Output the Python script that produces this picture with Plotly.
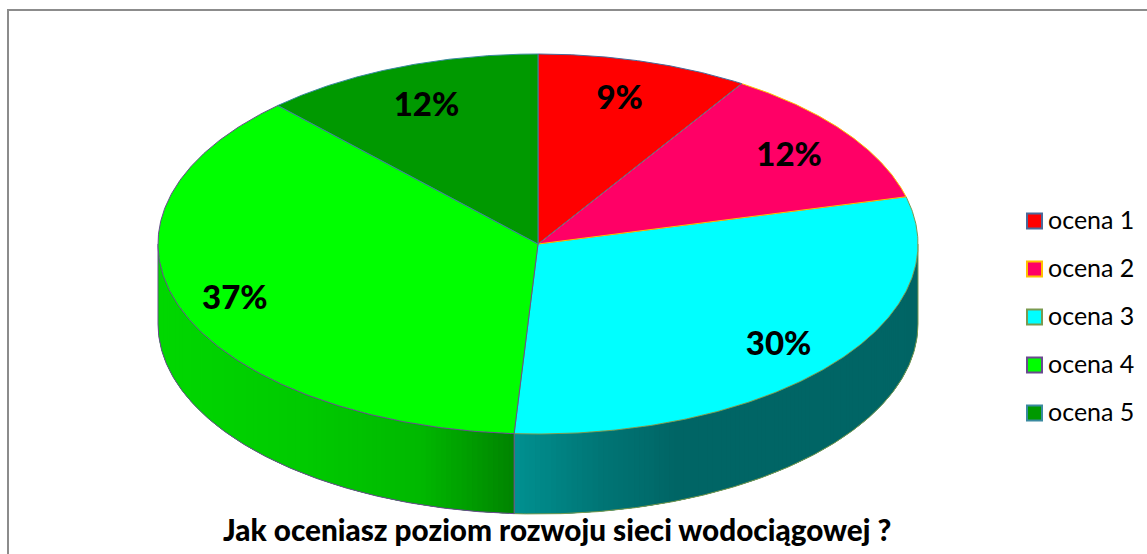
import numpy as np
import plotly.graph_objects as go

categories = ["ocena 1", "ocena 2", "ocena 3", "ocena 4", "ocena 5"]
values = [9, 12, 30, 37, 12]
top_colors = ["#ff0000", "#ff0066", "#00ffff", "#00ff00", "#009900"]
edge_colors = ["#4a6a9a", "#ffc000", "#7a9a50", "#6a4a90", "#3a8aa0"]
chart_title = "Jak oceniasz poziom rozwoju sieci wodociągowej ?"

W, H = 1147, 554
CX, CY, RX, RY, DEPTH = 538, 244, 380, 190, 80
LABEL_R = [0.78, 0.82, 0.825, 0.845, 0.79]
LABEL_DY = [-1, 5, 3, 2, 3]
DRAW_ORDER = [2, 1, 0, 3, 4]
FONT = "Lato"

# side shading stops: screen x -> colour
side_x = {2: [514, 600, 680, 918], 3: [158, 300, 420, 514]}
side_rgb = {
    2: [(0, 145, 145), (0, 118, 118), (0, 101, 101), (0, 101, 101)],
    3: [(0, 216, 0), (0, 203, 0), (0, 185, 0), (0, 132, 0)],
}


def px(t):
    return CX + RX * np.sin(t)


def py(t, dy=0):
    return CY - RY * np.cos(t) + dy


fracs = np.cumsum([0] + values) / sum(values) * 2 * np.pi
fig = go.Figure()
skip = dict(hoverinfo="skip", showlegend=False)

# sides: overlapping strips painted in order, so no seams show
for i, (lo, hi) in enumerate(zip(fracs[:-1], fracs[1:])):
    a, b = max(lo, np.pi / 2), min(hi, 3 * np.pi / 2)
    if a >= b:
        continue
    n = int(np.degrees(b - a) / 0.8) + 1
    edges = np.linspace(a, b, n + 1)
    for j in range(n):
        t0, t1 = edges[j], edges[min(j + 3, n)]
        tt = np.linspace(t0, t1, 5)
        xm = px((edges[j] + edges[j + 1]) / 2)
        rgb = [int(np.interp(xm, side_x[i], [c[k] for c in side_rgb[i]])) for k in range(3)]
        col = f"rgb({rgb[0]},{rgb[1]},{rgb[2]})"
        x = list(px(tt)) + list(px(tt[::-1]))
        y = list(py(tt)) + list(py(tt[::-1], DEPTH))
        fig.add_trace(go.Scatter(x=x, y=y, mode="lines", fill="toself", fillcolor=col,
                                 line=dict(width=0), **skip))
    tt = np.linspace(a, b, 200)
    fig.add_trace(go.Scatter(x=px(tt), y=py(tt, DEPTH), mode="lines",
                             line=dict(color=edge_colors[i], width=1), **skip))
    for t in (a, b):
        fig.add_trace(go.Scatter(x=[px(t), px(t)], y=[py(t), py(t, DEPTH)], mode="lines",
                                 line=dict(color=edge_colors[i], width=1), **skip))

# top faces
for i in DRAW_ORDER:
    tt = np.linspace(fracs[i], fracs[i + 1], 240)
    x = [CX] + list(px(tt)) + [CX]
    y = [CY] + list(py(tt)) + [CY]
    fig.add_trace(go.Scatter(x=x, y=y, mode="lines", fill="toself", fillcolor=top_colors[i],
                             line=dict(color=edge_colors[i], width=1), **skip))

# percentage labels
mids = (fracs[:-1] + fracs[1:]) / 2
fig.add_trace(go.Scatter(
    x=[CX + RX * r * np.sin(m) - 1 for r, m in zip(LABEL_R, mids)],
    y=[CY - RY * r * np.cos(m) + d for r, m, d in zip(LABEL_R, mids, LABEL_DY)],
    mode="text", text=[f"{v}%" for v in values],
    textfont=dict(family=FONT, size=33, color="black", weight=900),
    textposition="middle center", **skip))

# legend
for i, c in enumerate(categories):
    ly = 221 + i * 48
    fig.add_trace(go.Scatter(x=[1034.5], y=[ly], mode="markers",
                             marker=dict(symbol="square", size=15, color=top_colors[i],
                                         line=dict(color=edge_colors[i], width=2)), **skip))
    fig.add_trace(go.Scatter(x=[1048], y=[ly + 1.5], mode="text", text=[c],
                             textposition="middle right",
                             textfont=dict(family=FONT, size=25, color="black"), **skip))

fig.add_annotation(x=556.5, y=529, xref="x", yref="y", text=chart_title, showarrow=False,
                   font=dict(family=FONT, size=29.7, color="black", weight=900))

fig.update_layout(
    width=W, height=H, margin=dict(l=0, r=0, t=0, b=0), autosize=False,
    paper_bgcolor="white", plot_bgcolor="white", showlegend=False,
    xaxis=dict(range=[0, W], visible=False, fixedrange=True),
    yaxis=dict(range=[H, 0], visible=False, fixedrange=True),
    shapes=[dict(type="rect", x0=8, y0=10, x1=W + 10, y1=H + 10,
                 line=dict(color="#8c8c8c", width=2), fillcolor="rgba(0,0,0,0)", layer="below")],
)
fig.write_html("out.html", config={"displayModeBar": False},
               post_script="document.body.style.margin='0';document.body.style.overflow='hidden';")
